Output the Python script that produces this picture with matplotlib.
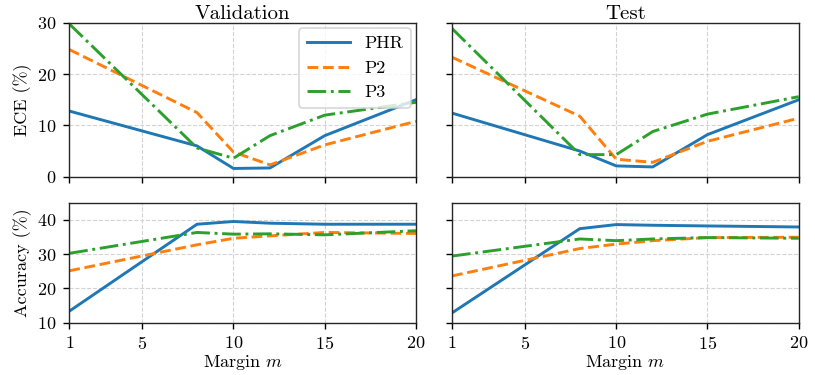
import numpy as np
import matplotlib
matplotlib.use("Agg")
import matplotlib.pyplot as plt

plt.rcParams['font.family'] = 'serif'
plt.rcParams['font.serif'] = ['cmr10', 'DejaVu Serif']
plt.rcParams['mathtext.fontset'] = 'cm'
plt.rcParams['axes.formatter.use_mathtext'] = True
plt.rcParams['font.size'] = 13

# margins evaluated
margins = [1, 8, 10, 12, 15, 20]
methods = ['PHR', 'P2', 'P3']

# ECE (%)
ece_val = {'PHR': [12.8, 6.0, 1.6, 1.7, 8.0, 15.0],
           'P2':  [24.8, 12.5, 4.8, 2.3, 6.2, 10.8],
           'P3':  [29.8, 5.6, 3.6, 8.0, 12.0, 14.5]}
ece_test = {'PHR': [12.4, 5.0, 2.1, 1.9, 8.2, 15.0],
            'P2':  [23.3, 11.8, 3.4, 2.8, 6.9, 11.4],
            'P3':  [28.9, 4.3, 4.3, 8.8, 12.2, 15.6]}
# Accuracy (%)
acc_val = {'PHR': [13.3, 38.7, 39.5, 39.0, 38.7, 38.7],
           'P2':  [25.1, 32.7, 34.6, 35.3, 36.3, 36.0],
           'P3':  [30.2, 36.3, 35.8, 35.9, 35.6, 36.8]}
acc_test = {'PHR': [12.8, 37.4, 38.6, 38.4, 38.2, 37.9],
            'P2':  [23.6, 31.6, 32.9, 33.9, 34.8, 34.9],
            'P3':  [29.4, 34.4, 33.9, 34.4, 34.8, 34.6]}

colors = {'PHR': 'tab:blue', 'P2': 'tab:orange', 'P3': 'tab:green'}
styles = {'PHR': '-', 'P2': '--', 'P3': '-.'}

fig, axes = plt.subplots(2, 2, figsize=(8.15, 3.75), dpi=100,
                         gridspec_kw={'height_ratios': [154, 120]})
fig.subplots_adjust(left=0.085, right=0.980, top=0.939, bottom=0.140,
                    wspace=0.104, hspace=0.19)

panels = [(axes[0, 0], ece_val), (axes[0, 1], ece_test),
          (axes[1, 0], acc_val), (axes[1, 1], acc_test)]
for ax, data in panels:
    for m in methods:
        ax.plot(margins, data[m], linestyle=styles[m], color=colors[m],
                lw=2.1, label=m)
    ax.set_xlim(1, 20)
    ax.set_xticks([1, 5, 10, 15, 20])
    ax.grid(True, linestyle='--', color='#d3d3d3', lw=0.8)
    ax.set_axisbelow(True)
    ax.tick_params(labelsize=13, width=1.0, length=4, pad=5)
    for sp in ax.spines.values():
        sp.set_linewidth(1.0)
        sp.set_color('#262626')

for ax in axes[0]:
    ax.set_ylim(0, 30)
    ax.set_yticks([0, 10, 20, 30])
    ax.tick_params(labelbottom=False)
for ax in axes[1]:
    ax.set_ylim(10, 45)
    ax.set_yticks([10, 20, 30, 40])
    ax.set_xlabel(r'Margin $m$', fontsize=13, labelpad=1)
for ax in axes[:, 1]:
    ax.tick_params(labelleft=False)

axes[0, 0].set_title('Validation', fontsize=15, pad=3)
axes[0, 1].set_title('Test', fontsize=15, pad=3)
axes[0, 0].set_ylabel('ECE (%)', fontsize=13, labelpad=4)
axes[1, 0].set_ylabel('Accuracy (%)', fontsize=13, labelpad=4)
leg = axes[0, 0].legend(loc='upper right', fontsize=13, handlelength=2.4,
                        borderaxespad=0.3)
leg.get_frame().set_linewidth(1.2)

fig.savefig('out.png', dpi=100)
